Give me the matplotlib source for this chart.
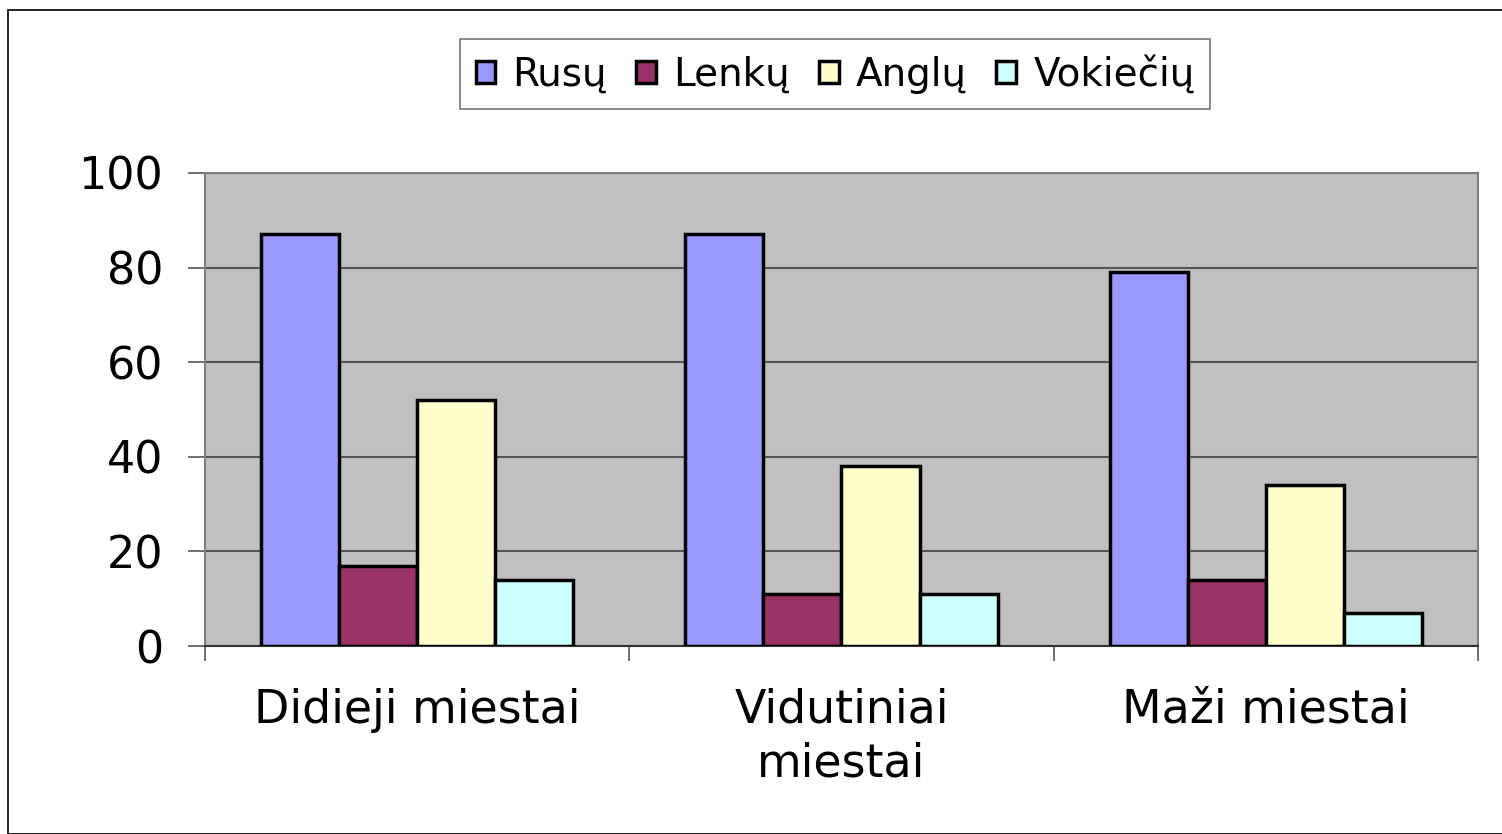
import numpy as np
import matplotlib.pyplot as plt
from matplotlib.patches import Rectangle

plt.rcParams['font.family'] = ['DejaVu Sans']

# Data
categories = ["Didieji miestai", "Vidutiniai\nmiestai", "Maži miestai"]
series_names = ["Rusų", "Lenkų", "Anglų", "Vokiečių"]
rusu = [87, 87, 79]
lenku = [17, 11, 14]
anglu = [52, 38, 34]
vokieciu = [14, 11, 7]
colors = ["#9999FF", "#993366", "#FFFFCC", "#CCFFFF"]

fig = plt.figure(figsize=(15.02, 8.34), dpi=100)
ax = fig.add_axes([0.1365, 0.2254, 0.8475, 0.5672])

x = np.arange(len(categories))
w = 0.184
values = [rusu, lenku, anglu, vokieciu]
for i, (name, vals, c) in enumerate(zip(series_names, values, colors)):
    ax.bar(x + (i - 1.5) * w, vals, width=w, color=c, edgecolor="black",
           linewidth=2.5, label=name, zorder=3)

ax.set_facecolor("#C0C0C0")
ax.set_xlim(-0.5, 2.5)
ax.set_ylim(0, 100)
ax.set_yticks([0, 20, 40, 60, 80, 100])
ax.yaxis.grid(True, color="#555555", linewidth=1.5, zorder=1)
ax.tick_params(axis="y", labelsize=32, length=12, width=1.2, color="#555555", pad=18)

# category labels centered, ticks at boundaries
ax.set_xticks(x)
ax.set_xticklabels(categories, fontsize=33, linespacing=1.25)
ax.tick_params(axis="x", length=0, pad=30)
ax.set_xticks([-0.5, 0.5, 1.5, 2.5], minor=True)
ax.tick_params(axis="x", which="minor", length=11, width=1.2, color="#555555")

for s in ["top", "right", "left"]:
    ax.spines[s].set_color("#808080")
    ax.spines[s].set_linewidth(1.5)
ax.spines["bottom"].set_color("#333333")
ax.spines["bottom"].set_linewidth(1.5)

leg = fig.legend(loc="center", bbox_to_anchor=(0.556, 0.911), ncol=4,
                 fontsize=28, frameon=True, fancybox=False, edgecolor="#555555",
                 handlelength=0.5, handleheight=0.5, handletextpad=0.45,
                 columnspacing=0.75, borderpad=0.4, borderaxespad=0)
leg.get_frame().set_linewidth(1.2)
for h in leg.legend_handles:
    h.set_linewidth(2.5)

# outer chart border
fig.patches.append(Rectangle((8 / 1502, 0.0), 1.2, 1 - 10 / 834,
                             transform=fig.transFigure, fill=False,
                             edgecolor="black", linewidth=1.2))

fig.savefig("out.png", dpi=100)
